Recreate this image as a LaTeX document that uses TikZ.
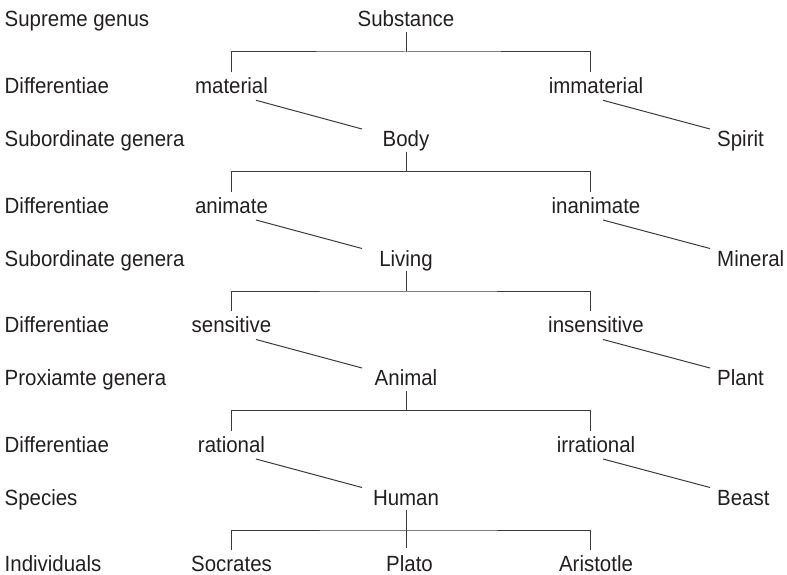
\documentclass[tikz,border=0pt]{standalone}
\usepackage{fontspec}
\setmainfont{Liberation Sans}[FakeStretch=0.93]
\usetikzlibrary{calc}
\definecolor{ink}{HTML}{231F20}
\definecolor{rule}{HTML}{3A3A3A}
\begin{document}
\begin{tikzpicture}[x=1pt,y=-1pt,
  every node/.style={font=\fontsize{22}{26}\selectfont, text=ink, inner sep=0pt},
  rowlabel/.style={anchor=base west},
  genus/.style={anchor=base, text height=15pt, text depth=5pt},
  differentia/.style={anchor=base, text height=21pt, text depth=0pt},
  leaf/.style={anchor=base west},
  link/.style={draw=rule, line width=1pt}]
\useasboundingbox (0,0) rectangle (787,575);

% level names in the left column
\node[rowlabel] (r0) at (4.5,27)    {Supreme genus};
\node[rowlabel] (r1) at (4.5,93.3)  {Differentiae};
\node[rowlabel] (r2) at (4.5,146.5) {Subordinate genera};
\node[rowlabel] (r3) at (4.5,213)   {Differentiae};
\node[rowlabel] (r4) at (4.5,266)   {Subordinate genera};
\node[rowlabel] (r5) at (4.5,332.5) {Differentiae};
\node[rowlabel] (r6) at (4.5,385.5) {Proxiamte genera};
\node[rowlabel] (r7) at (4.5,452)   {Differentiae};
\node[rowlabel] (r8) at (4.5,505)   {Species};
\node[rowlabel] (r9) at (4.5,571.5) {Individuals};

% genera down the middle
\node[genus] (substance) at (406,27)    {Substance};
\node[genus] (body)      at (406,146.5) {Body};
\node[genus] (living)    at (406,266)   {Living};
\node[genus] (animal)    at (406,385.5) {Animal};
\node[genus] (human)     at (406,505)   {Human};

% differentiae
\node[differentia] (material)    at (231.5,93.3)  {material};
\node[differentia] (immaterial)  at (596,93.3)    {immaterial};
\node[differentia] (animate)     at (231.5,213)   {animate};
\node[differentia] (inanimate)   at (596,213)     {inanimate};
\node[differentia] (sensitive)   at (231.5,332.5) {sensitive};
\node[differentia] (insensitive) at (596,332.5)   {insensitive};
\node[differentia] (rational)    at (231.5,452)   {rational};
\node[differentia] (irrational)  at (596,452)     {irrational};

% individuals
\node[differentia] (socrates)  at (231.5,571.5) {Socrates};
\node[differentia] (plato)     at (409.5,571.5) {Plato};
\node[differentia] (aristotle) at (596,571.5)   {Aristotle};

% the excluded branches on the right
\node[leaf] (spirit)  at (717,146.5) {Spirit};
\node[leaf] (mineral) at (717,266)   {Mineral};
\node[leaf] (plant)   at (717,385.5) {Plant};
\node[leaf] (beast)   at (717,505)   {Beast};

% bracket junctions
\coordinate (j0) at (406,52);
\coordinate (j1) at (406,171.5);
\coordinate (j2) at (406,291);
\coordinate (j3) at (406,410.5);
\coordinate (j4) at (406,530);

% division brackets
\draw[link] (substance.south) -- (j0);
\draw[link] (material.north) |- (j0) -| ([xshift=-6pt]immaterial.north);
\draw[link] (body.south) -- (j1);
\draw[link] (animate.north) |- (j1) -| ([xshift=-6pt]inanimate.north);
\draw[link] (living.south) -- (j2);
\draw[link] (sensitive.north) |- (j2) -| ([xshift=-6pt]insensitive.north);
\draw[link] (animal.south) -- (j3);
\draw[link] (rational.north) |- (j3) -| ([xshift=-6pt]irrational.north);
\draw[link] (human.south) -- ([xshift=-3.5pt,yshift=2pt]plato.north);
\draw[link] (socrates.north) |- (j4) -| ([xshift=-6pt]aristotle.north);

% differentia to the genus it yields
\draw[link] ($(material.base)+(24.5,7)$) -- ($(body.base)+(-44,-17.5)$);
\draw[link] ($(immaterial.base)+(7,7)$) -- ($(spirit.base west)+(-7,-17.5)$);
\draw[link] ($(animate.base)+(24.5,7)$) -- ($(living.base)+(-44,-17.5)$);
\draw[link] ($(inanimate.base)+(7,7)$) -- ($(mineral.base west)+(-7,-17.5)$);
\draw[link] ($(sensitive.base)+(24.5,7)$) -- ($(animal.base)+(-44,-17.5)$);
\draw[link] ($(insensitive.base)+(7,7)$) -- ($(plant.base west)+(-7,-17.5)$);
\draw[link] ($(rational.base)+(24.5,7)$) -- ($(human.base)+(-44,-17.5)$);
\draw[link] ($(irrational.base)+(7,7)$) -- ($(beast.base west)+(-7,-17.5)$);
\end{tikzpicture}
\end{document}
